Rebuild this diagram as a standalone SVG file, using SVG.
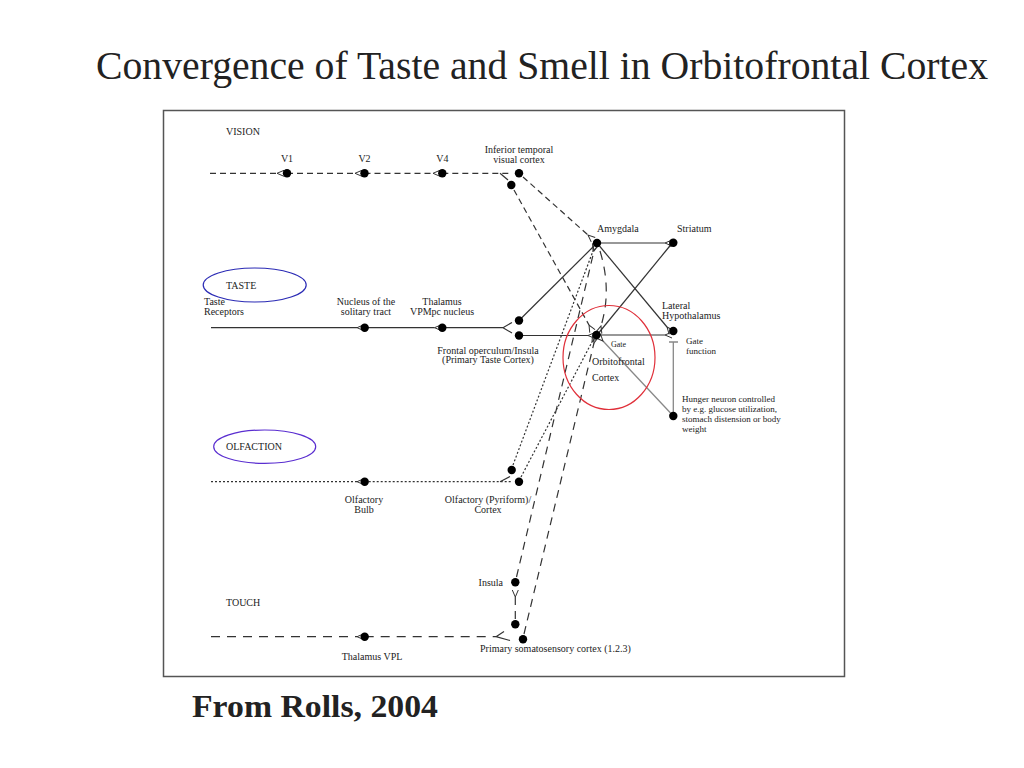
<svg xmlns="http://www.w3.org/2000/svg" width="1024" height="768" viewBox="0 0 1024 768">
<defs>
<style>
text{font-family:"Liberation Serif","Times New Roman",serif;fill:#222}
.t{font-size:10px}
.s{font-size:9px}
.xs{font-size:8px}
.m{text-anchor:middle}
.e{text-anchor:end}
.ln{fill:none;stroke:#333;stroke-width:1.2}
.gr{fill:none;stroke:#888;stroke-width:1.3}
.da{stroke-dasharray:6,4}
.dl{stroke-dasharray:9,7}
.dd{stroke-dasharray:8,6}
.dt{stroke-dasharray:2,2}
.dot{fill:#000}
</style>
<marker id="syn" viewBox="-1 -5 10 10" markerWidth="10" markerHeight="10" refX="0" refY="0" orient="auto" markerUnits="userSpaceOnUse">
<path d="M7,-3 L0,0 L7,3" fill="none" stroke="#333" stroke-width="1"/>
</marker>
</defs>
<rect width="1024" height="768" fill="#fff"/>
<text x="96" y="79" font-size="40" font-family="Liberation Serif, Times New Roman, serif" textLength="892" lengthAdjust="spacingAndGlyphs">Convergence of Taste and Smell in Orbitofrontal Cortex</text>
<rect x="163.5" y="110.5" width="681" height="566" fill="#fff" stroke="#555" stroke-width="1.5"/>

<g id="connectors">
<!-- vision -->
<path class="ln da" d="M210,173.3 H277" marker-end="url(#syn)"/>
<path class="ln da" d="M287,173.3 H355" marker-end="url(#syn)"/>
<path class="ln da" d="M364.5,173.3 H433" marker-end="url(#syn)"/>
<path class="ln da" d="M442.3,173.3 H512"/>
<path class="ln" d="M500,173.3 L508,180"/>
<path class="ln da" d="M523,177 L588,235" marker-end="url(#syn)"/>
<path class="ln da" d="M514,190 L589,325" marker-end="url(#syn)"/>
<!-- taste -->
<path class="ln" d="M211,327.7 H357" marker-end="url(#syn)"/>
<path class="ln" d="M364.7,327.7 H434.5" marker-end="url(#syn)"/>
<path class="ln" d="M442.3,327.7 H503 L512,322.5 M503,327.7 L512,333"/>
<path class="ln" d="M519,320.5 L597,243"/>
<path class="ln" d="M519,335.5 H588" marker-end="url(#syn)"/>
<path class="ln" d="M597,243 H665" marker-end="url(#syn)"/>
<path class="ln" d="M597,243 L667,327" marker-end="url(#syn)"/>
<path class="ln" d="M597,335 L669,247" marker-end="url(#syn)"/>
<path class="ln" d="M597,335 H665" marker-end="url(#syn)"/>
<path class="gr" d="M673.3,342 V416 M669,342 H678"/>
<path class="gr" d="M673.3,416 L603,341" marker-end="url(#syn)"/>
<path class="ln dl" d="M600,251 Q612,290 601,326" marker-end="url(#syn)"/>
<!-- olfaction -->
<path class="ln dt" d="M211,481.7 H357" marker-end="url(#syn)"/>
<path class="ln dt" d="M364.7,481.7 H512"/>
<path class="ln" d="M500,481.7 L510,476.5"/>
<path class="ln dt" d="M513,465 L593,251" marker-end="url(#syn)"/>
<path class="ln dt" d="M521,477 L592,342" marker-end="url(#syn)"/>
<!-- touch -->
<path class="ln dl" d="M211,636.7 H357" marker-end="url(#syn)"/>
<path class="ln dl" d="M364.7,636.7 H496"/>
<path class="ln" d="M496,636.7 L504,631.5 M496,636.7 L510,640.5"/>
<path class="ln dd" d="M515.3,619 V597" marker-end="url(#syn)"/>
<path class="ln dd" d="M516.5,577 L594,251" marker-end="url(#syn)"/>
<path class="ln dd" d="M524,634 L594,343" marker-end="url(#syn)"/>
</g>

<g id="vision">
<text class="t" x="226" y="135">VISION</text>
<g id="v1"><circle class="dot" cx="287" cy="173.3" r="4.2"/><text class="t m" x="287" y="161.5">V1</text></g>
<g id="v2"><circle class="dot" cx="364.5" cy="173.3" r="4.2"/><text class="t m" x="364.5" y="161.5">V2</text></g>
<g id="v4"><circle class="dot" cx="442.3" cy="173.3" r="4.2"/><text class="t m" x="442.3" y="161.5">V4</text></g>
<g id="it"><circle class="dot" cx="519" cy="173.3" r="4.2"/><circle class="dot" cx="511.3" cy="185" r="4.2"/>
<text class="t m" x="519" y="152.5">Inferior temporal</text><text class="t m" x="519" y="162.5">visual cortex</text></g>
</g>

<g id="taste">
<ellipse cx="254.7" cy="285" rx="51.5" ry="17" fill="none" stroke="#2b2bb5" stroke-width="1.2"/>
<text class="t" x="226" y="288.5">TASTE</text>
<text class="t" x="204" y="305">Taste</text><text class="t" x="204" y="315">Receptors</text>
<g id="nts"><circle class="dot" cx="364.7" cy="327.7" r="4.2"/><text class="t m" x="366" y="305">Nucleus of the</text><text class="t m" x="366" y="315">solitary tract</text></g>
<g id="vpmpc"><circle class="dot" cx="442.3" cy="327.7" r="4.2"/><text class="t m" x="442" y="305">Thalamus</text><text class="t m" x="442" y="315">VPMpc nucleus</text></g>
<g id="frontal"><circle class="dot" cx="519" cy="320.5" r="4.2"/><circle class="dot" cx="519" cy="335.5" r="4.2"/>
<text class="t m" x="488" y="353.5">Frontal operculum/Insula</text><text class="t m" x="488" y="363">(Primary Taste Cortex)</text></g>
</g>

<g id="amygdala"><circle class="dot" cx="597" cy="243" r="4.2"/><text class="t" x="597" y="231.5">Amygdala</text></g>
<g id="striatum"><circle class="dot" cx="673.3" cy="242.7" r="4.2"/><text class="t" x="677" y="231.5">Striatum</text></g>
<g id="lh"><circle class="dot" cx="673.3" cy="331" r="4.2"/><text class="t" x="662" y="308.5">Lateral</text><text class="t" x="662" y="318.5">Hypothalamus</text>
<text class="s" x="686" y="344">Gate</text><text class="s" x="686" y="354">function</text></g>
<g id="ofc"><circle class="dot" cx="596.5" cy="335" r="4.2"/>
<ellipse cx="609" cy="357.5" rx="46" ry="52" fill="none" stroke="#e0303a" stroke-width="1.2"/>
<text class="xs" x="611" y="347">Gate</text>
<text class="t" x="592" y="365">Orbitofrontal</text><text class="t" x="592" y="381">Cortex</text></g>
<g id="hunger"><circle class="dot" cx="673.3" cy="416" r="4.2"/>
<text class="s" x="682" y="402">Hunger neuron controlled</text>
<text class="s" x="682" y="412">by e.g. glucose utilization,</text>
<text class="s" x="682" y="422">stomach distension or body</text>
<text class="s" x="682" y="431.5">weight</text></g>

<g id="olfaction">
<ellipse cx="264.7" cy="446.7" rx="51" ry="16.7" fill="none" stroke="#5a2ed0" stroke-width="1.2"/>
<text class="t" x="226" y="450">OLFACTION</text>
<g id="bulb"><circle class="dot" cx="364.7" cy="481.7" r="4.2"/><text class="t m" x="364" y="502.5">Olfactory</text><text class="t m" x="364" y="512.5">Bulb</text></g>
<g id="pyriform"><circle class="dot" cx="511.7" cy="470" r="4.2"/><circle class="dot" cx="519" cy="481.7" r="4.2"/>
<text class="t m" x="488" y="502.5">Olfactory (Pyriform)/</text><text class="t m" x="488" y="512.5">Cortex</text></g>
</g>

<g id="touch">
<text class="t" x="226" y="605.5">TOUCH</text>
<g id="insula"><circle class="dot" cx="515.3" cy="582.3" r="4.2"/><text class="t e" x="503" y="585.5">Insula</text></g>
<g id="vpl"><circle class="dot" cx="364.7" cy="636.7" r="4.2"/><text class="t m" x="372" y="660">Thalamus VPL</text></g>
<g id="s1"><circle class="dot" cx="515.3" cy="624.3" r="4.2"/><circle class="dot" cx="523" cy="639.3" r="4.2"/>
<text class="t" x="480" y="651.5">Primary somatosensory cortex (1.2.3)</text></g>
</g>

<text x="192" y="717" font-size="32" font-weight="bold" font-family="Liberation Serif, Times New Roman, serif" textLength="246" lengthAdjust="spacingAndGlyphs">From Rolls, 2004</text>
</svg>
